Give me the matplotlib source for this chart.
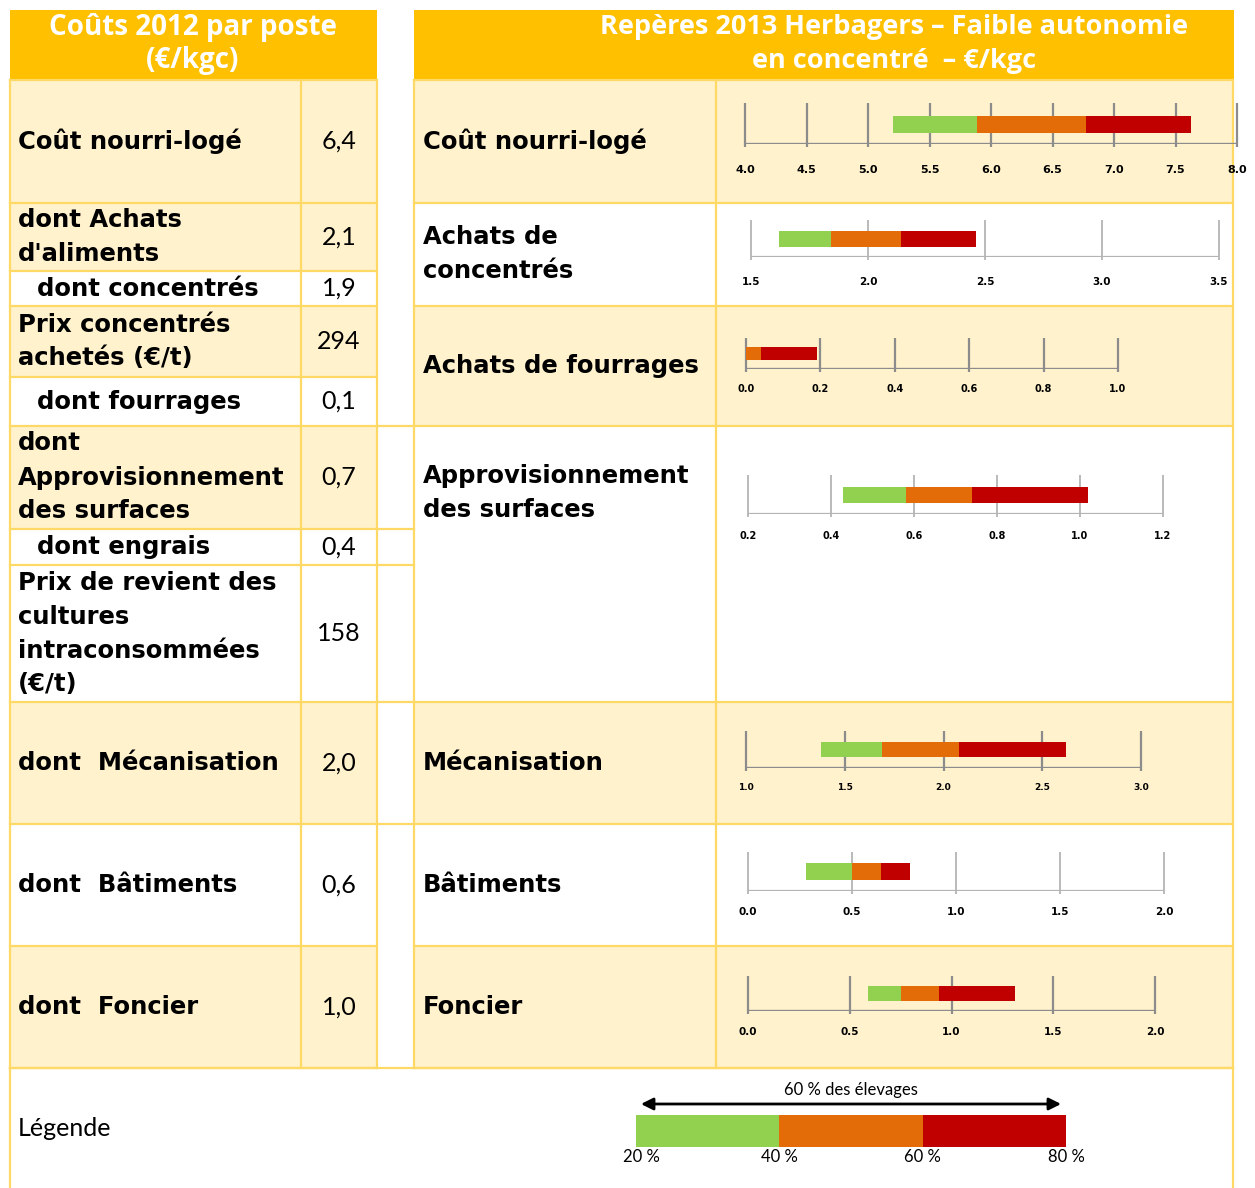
import matplotlib
matplotlib.use("Agg")
import matplotlib.pyplot as plt
from matplotlib.patches import Rectangle
import numpy as np

W, H = 1255, 1188

HEAD = "#FFC000"
CREAM = "#FFF2CC"
LINE = "#FFD966"
GREEN = "#92D050"
ORANGE = "#E36C09"
RED = "#C00000"
FONT = ["Lato", "DejaVu Sans"]
HEADFONT = ["Open Sans", "DejaVu Sans"]
BOLD = ["DejaVu Sans"]

# ---- left table: Coûts 2012 par poste (€/kgc)
left_labels = ["Coût nourri-logé", "dont Achats\nd'aliments", "dont concentrés",
               "Prix concentrés\nachetés (€/t)", "dont fourrages",
               "dont\nApprovisionnement\ndes surfaces", "dont engrais",
               "Prix de revient des\ncultures\nintraconsommées\n(€/t)",
               "dont  Mécanisation", "dont  Bâtiments", "dont  Foncier"]
left_values = ["6,4", "2,1", "1,9", "294", "0,1", "0,7", "0,4", "158", "2,0", "0,6", "1,0"]
left_indent = [False, False, True, False, True, False, True, False, False, False, False]
left_cream = [True, True, False, True, False, True, False, False, True, False, True]
left_rows = [80, 203, 271, 306, 377, 426, 529, 565, 702, 824, 946, 1068]

# ---- right table: Repères 2013 (quartile bars)
right_labels = ["Coût nourri-logé", "Achats de\nconcentrés", "Achats de fourrages",
                "Approvisionnement\ndes surfaces", "Mécanisation", "Bâtiments", "Foncier"]
right_cream = [True, False, True, False, True, False, True]
right_rows = [80, 203, 306, 426, 702, 824, 946, 1068]
right_label_y = [141, 254, 366, 493, 763, 885, 1007]

q20 = [5.20, 1.62, 0.00, 0.43, 1.38, 0.28, 0.59]
q40 = [5.89, 1.84, 0.00, 0.58, 1.69, 0.50, 0.75]
q60 = [6.77, 2.14, 0.04, 0.74, 2.08, 0.64, 0.94]
q80 = [7.63, 2.46, 0.19, 1.02, 2.62, 0.78, 1.31]
axis_min = [4.0, 1.5, 0.0, 0.2, 1.0, 0.0, 0.0]
axis_max = [8.0, 3.5, 1.0, 1.2, 3.0, 2.0, 2.0]
axis_step = [0.5, 0.5, 0.2, 0.2, 0.5, 0.5, 0.5]

# pixel geometry of each mini chart: x of min, x of max, grid top, axis y, bar top, bar bottom, label y, label size
chart_px = [
    (745, 1237, 103, 144, 116, 133, 170, 8),
    (751, 1219, 220, 257, 231, 247, 282, 7.5),
    (746, 1118, 338, 369, 347, 360, 389, 7),
    (748, 1163, 475, 514, 487, 503, 536, 7),
    (746, 1141, 731, 768, 742, 757, 788, 6.5),
    (748, 1164, 852, 891, 863, 880, 912, 7.5),
    (748, 1155, 976, 1011, 986, 1001, 1032, 7.5),
]

legend_pcts = [20, 40, 60, 80]

fig = plt.figure(figsize=(W / 100, H / 100), dpi=100)
bg = fig.add_axes([0, 0, 1, 1])
bg.set_xlim(0, W)
bg.set_ylim(H, 0)
bg.axis("off")

LW = 1.6


def block(ax, x, yc, text, size, family=BOLD, weight="bold", ha="left", color="black", step=34):
    lines = text.split("\n")
    y0 = yc - step * (len(lines) - 1) / 2
    for i, ln in enumerate(lines):
        ax.text(x, y0 + i * step, ln, fontsize=size, fontweight=weight, family=family,
                ha=ha, va="center", color=color)


# headers
bg.add_patch(Rectangle((10, 10), 367, 70, color=HEAD, lw=0))
bg.add_patch(Rectangle((414, 10), 820, 70, color=HEAD, lw=0))
block(bg, 193, 44, "Coûts 2012 par poste\n(€/kgc)", 20, family=HEADFONT, ha="center",
      color="white", step=33)
block(bg, 894, 44, "Repères 2013 Herbagers – Faible autonomie\nen concentré  – €/kgc", 19.5,
      family=HEADFONT, ha="center", color="white", step=33)

# left table
for i in range(len(left_labels)):
    top, bot = left_rows[i], left_rows[i + 1]
    if left_cream[i]:
        bg.add_patch(Rectangle((10, top), 367, bot - top, color=CREAM, lw=0))
    yc = (top + bot) / 2
    block(bg, 37 if left_indent[i] else 18, yc, left_labels[i], 17.5)
    bg.text(339, yc, left_values[i], fontsize=18, family=FONT, ha="center", va="center")
for y in left_rows:
    bg.plot([10, 377], [y, y], color=LINE, lw=LW)
for x in [10, 301, 377]:
    bg.plot([x, x], [80, 1068], color=LINE, lw=LW)

# gap column lines
for y in [426, 529, 565, 702, 824]:
    bg.plot([377, 414], [y, y], color=LINE, lw=LW)

# right table
for i in range(len(right_labels)):
    top, bot = right_rows[i], right_rows[i + 1]
    if right_cream[i]:
        bg.add_patch(Rectangle((414, top), 819, bot - top, color=CREAM, lw=0))
    block(bg, 423, right_label_y[i], right_labels[i], 17.5)
for y in right_rows:
    bg.plot([414, 1233], [y, y], color=LINE, lw=LW)
for x in [414, 716, 1233]:
    bg.plot([x, x], [80, 1068], color=LINE, lw=LW)

# legend row borders
bg.plot([10, 1233], [1068, 1068], color=LINE, lw=LW)
bg.plot([10, 10], [1068, H], color=LINE, lw=LW)
bg.plot([1233, 1233], [1068, H], color=LINE, lw=LW)
bg.text(18, 1128, "Légende", fontsize=18, family=FONT, ha="left", va="center")

# mini charts
for i in range(len(right_labels)):
    x0, x1, yt, ya, bt, bb, ly, lsize = chart_px[i]
    hpx = ya - yt
    ax = fig.add_axes([x0 / W, 1 - ya / H, (x1 - x0) / W, hpx / H])
    ax.set_xlim(axis_min[i], axis_max[i])
    ax.set_ylim(0, 1)
    ax.axis("off")
    dark = right_cream[i]
    gcol = "#8C8C8C" if dark else "#B4B4B4"
    ticks = np.arange(axis_min[i], axis_max[i] + axis_step[i] / 2, axis_step[i])
    ax.vlines(ticks, -3 / hpx, 1, colors=gcol, lw=1.6 if dark else 1.3, clip_on=False, zorder=1)
    ax.hlines(0, axis_min[i], axis_max[i], colors=gcol, lw=2.4 if dark else 1.6, zorder=2)
    yc = (ya - (bt + bb) / 2) / hpx
    bh = (bb - bt) / hpx
    ax.barh(yc, q40[i] - q20[i], left=q20[i], height=bh, color=GREEN, zorder=3)
    ax.barh(yc, q60[i] - q40[i], left=q40[i], height=bh, color=ORANGE, zorder=3)
    ax.barh(yc, q80[i] - q60[i], left=q60[i], height=bh, color=RED, zorder=3)
    for t in ticks:
        ax.text(t, -(ly - ya) / hpx, f"{t:.1f}", fontsize=lsize, fontweight="bold",
                family=BOLD, ha="center", va="center", clip_on=False)

# legend bar
lg = fig.add_axes([636 / W, 1 - 1147 / H, (1066 - 636) / W, 32 / H])
lg.set_xlim(legend_pcts[0], legend_pcts[-1])
lg.set_ylim(0, 1)
lg.axis("off")
for a, b, c in zip(legend_pcts[:-1], legend_pcts[1:], [GREEN, ORANGE, RED]):
    lg.barh(0.5, b - a, left=a, height=1, color=c)
for p in legend_pcts:
    lg.text(p + (0.8 if p == legend_pcts[0] else 0), -10 / 32, f"{p} %", fontsize=12,
            family=FONT, ha="center", va="center")
lg.annotate("", xy=(legend_pcts[-1] - 0.3, 43 / 32), xytext=(legend_pcts[0] + 0.3, 43 / 32),
            arrowprops=dict(arrowstyle="<|-|>", color="black", lw=2, mutation_scale=18),
            annotation_clip=False)
lg.text(np.mean(legend_pcts[::3]), 57 / 32, "60 % des élevages", fontsize=12, family=FONT,
        ha="center", va="center")

fig.savefig("out.png", dpi=100)
